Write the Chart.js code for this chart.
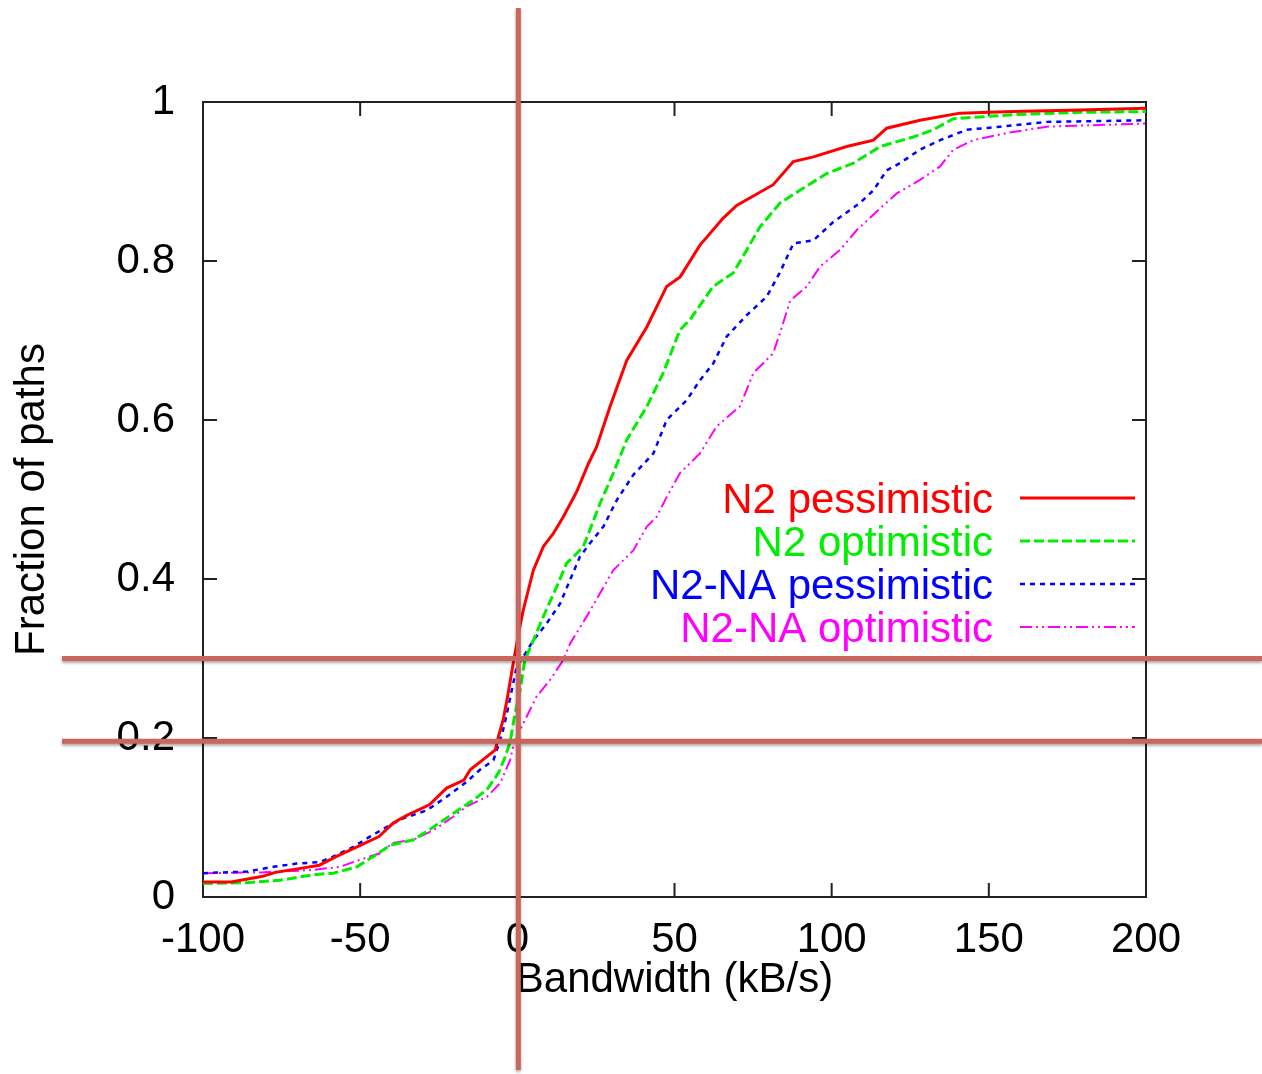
<!DOCTYPE html>
<html>
<head>
<meta charset="utf-8">
<title>Bandwidth CDF</title>
<script src="https://cdn.jsdelivr.net/npm/chart.js@4.4.0/dist/chart.umd.min.js"></script>
<style>
  html, body { margin: 0; padding: 0; background: #fff; }
  #wrap { width: 1262px; height: 1074px; position: relative; }
</style>
</head>
<body>
<div id="wrap"><canvas id="cdf"></canvas></div>
<script>
/* CDF of bandwidth difference per path — four estimates, plus hand-drawn marker lines */

// ── Axis ticks ───────────────────────────────────────────────
const xTicks = [-100, -50, 0, 50, 100, 150, 200];
const yTicks = [0, 0.2, 0.4, 0.6, 0.8, 1];

// ── Series ───────────────────────────────────────────────────
const seriesLabels = ['N2 pessimistic', 'N2 optimistic', 'N2-NA pessimistic', 'N2-NA optimistic'];

const n2PessX = [-100, -91, -81, -77, -69, -63, -57.5, -51, -44, -39.5, -35, -28, -22.5, -17, -15, -10.5, -7, -6, -4.5, -3.2, -1.3, 0.8, 1.9, 5.1, 8.3, 11.4, 14.6, 18.9, 22.6, 25.2, 29.5, 34.8, 41.2, 47.5, 51.8, 58.1, 65.5, 69.8, 81.4, 87.8, 94.2, 104.8, 113.3, 117.5, 128.1, 140.8, 157.7, 179, 200];
const n2PessY = [0.019, 0.019, 0.026, 0.031, 0.036, 0.040, 0.051, 0.063, 0.076, 0.093, 0.103, 0.116, 0.137, 0.147, 0.160, 0.174, 0.185, 0.202, 0.223, 0.250, 0.294, 0.340, 0.361, 0.411, 0.441, 0.457, 0.478, 0.510, 0.545, 0.566, 0.617, 0.675, 0.717, 0.768, 0.780, 0.820, 0.854, 0.870, 0.896, 0.925, 0.931, 0.944, 0.952, 0.967, 0.977, 0.986, 0.988, 0.990, 0.992];

const n2OptX = [-100, -86, -75.5, -65, -58.5, -51, -45.8, -40.5, -33, -26.7, -20.4, -14, -9.7, -6, -3.9, -2.3, -1.0, 0.85, 2.4, 5.1, 8.3, 12.5, 15.7, 18.9, 21, 23.1, 26.3, 30.5, 34.8, 41.2, 46.4, 51.7, 54.9, 62.3, 68.7, 73, 77.2, 83.6, 89.9, 98.4, 106.9, 115.4, 126, 132.3, 138.7, 157.8, 179, 200];
const n2OptY = [0.017, 0.018, 0.021, 0.028, 0.030, 0.038, 0.051, 0.065, 0.072, 0.088, 0.105, 0.122, 0.135, 0.156, 0.176, 0.195, 0.225, 0.260, 0.298, 0.323, 0.353, 0.390, 0.420, 0.432, 0.441, 0.462, 0.495, 0.533, 0.575, 0.617, 0.659, 0.713, 0.726, 0.768, 0.785, 0.814, 0.843, 0.873, 0.889, 0.910, 0.923, 0.944, 0.956, 0.965, 0.979, 0.984, 0.987, 0.988];

const naPessX = [-100, -86, -77.6, -70.2, -62.8, -58.5, -52.2, -46.9, -41.6, -36.3, -28.8, -22.5, -16.1, -11.9, -7.6, -5.5, -4.2, -2.3, -0.2, 1.9, 5.1, 9.3, 13.6, 16.8, 19.9, 23.1, 27.4, 31.6, 36.9, 43.3, 47.5, 53.9, 58.1, 62.3, 66.6, 73, 79.3, 83.6, 87.8, 94.2, 100.5, 109, 113.3, 117.5, 121.7, 128.1, 134.5, 142.9, 153.6, 168.4, 200];
const naPessY = [0.030, 0.032, 0.038, 0.042, 0.044, 0.051, 0.063, 0.076, 0.088, 0.099, 0.109, 0.126, 0.145, 0.160, 0.172, 0.197, 0.215, 0.250, 0.290, 0.302, 0.323, 0.344, 0.369, 0.399, 0.428, 0.445, 0.466, 0.499, 0.531, 0.558, 0.600, 0.625, 0.650, 0.671, 0.705, 0.732, 0.755, 0.786, 0.822, 0.826, 0.849, 0.873, 0.889, 0.914, 0.923, 0.940, 0.952, 0.965, 0.969, 0.975, 0.977];

const naOptX = [-100, -80.8, -64.9, -56.4, -50, -43.7, -39.5, -33.1, -26.7, -20.4, -16.1, -9.7, -5.5, -2.3, -1.3, 0.85, 3, 6.1, 10.4, 14.6, 16.8, 22.1, 26.3, 30.5, 36.9, 41.2, 44.3, 47.5, 51.7, 58.1, 63.4, 70.8, 75.1, 81.4, 83.6, 86.8, 92.1, 96.3, 102.7, 108, 115.4, 120.7, 128.1, 134.5, 138.7, 145.1, 155.7, 168.4, 200];
const naOptY = [0.030, 0.031, 0.034, 0.038, 0.047, 0.055, 0.068, 0.072, 0.084, 0.101, 0.114, 0.126, 0.143, 0.172, 0.190, 0.210, 0.227, 0.252, 0.273, 0.298, 0.319, 0.353, 0.382, 0.411, 0.436, 0.466, 0.478, 0.503, 0.533, 0.558, 0.592, 0.617, 0.659, 0.684, 0.710, 0.750, 0.768, 0.793, 0.814, 0.839, 0.866, 0.885, 0.902, 0.919, 0.940, 0.952, 0.961, 0.969, 0.973];

// Marker lines drawn over the plot (x = 0, y = 0.3 and ~0.2)
const markerX = [0];
const markerY = [0.3, 0.196];

const FONT = 'Liberation Sans, Arial, Helvetica, sans-serif';

function pts(xs, ys) {
  return xs.map((x, i) => ({ x, y: ys[i] }));
}

function mkSet(label, xs, ys, color, width, dash) {
  return {
    label,
    data: pts(xs, ys),
    borderColor: color,
    backgroundColor: color,
    borderWidth: width,
    borderDash: dash,
    pointRadius: 0,
    tension: 0,
    fill: false,
  };
}

// ── Plugins ──────────────────────────────────────────────────
// gnuplot-style frame with inward ticks on all four sides
const framePlugin = {
  id: 'frame',
  beforeDatasetsDraw(chart) {
    const { ctx, chartArea: a, scales } = chart;
    const tl = 14;
    ctx.save();
    ctx.strokeStyle = '#222';
    ctx.lineWidth = 2;
    ctx.strokeRect(a.left, a.top, a.right - a.left, a.bottom - a.top);
    ctx.beginPath();
    xTicks.forEach(v => {
      const px = scales.x.getPixelForValue(v);
      ctx.moveTo(px, a.bottom); ctx.lineTo(px, a.bottom - tl);
      ctx.moveTo(px, a.top);    ctx.lineTo(px, a.top + tl);
    });
    yTicks.forEach(v => {
      const py = scales.y.getPixelForValue(v);
      ctx.moveTo(a.left, py);  ctx.lineTo(a.left + tl, py);
      ctx.moveTo(a.right, py); ctx.lineTo(a.right - tl, py);
    });
    ctx.stroke();
    ctx.restore();
  }
};

// key inside the plot: label right-aligned, line sample to the right
const keyPlugin = {
  id: 'key',
  afterDatasetsDraw(chart) {
    const { ctx, chartArea: a } = chart;
    ctx.save();
    ctx.font = `42px ${FONT}`;
    ctx.textAlign = 'right';
    ctx.textBaseline = 'alphabetic';
    chart.data.datasets.forEach((ds, i) => {
      const rowY = a.top + 396 + i * 43;
      ctx.fillStyle = ds.borderColor;
      ctx.fillText(ds.label, a.right - 153, rowY + 15);
      ctx.strokeStyle = ds.borderColor;
      ctx.lineWidth = ds.borderWidth;
      ctx.setLineDash(ds.borderDash || []);
      ctx.beginPath();
      ctx.moveTo(a.right - 126, rowY);
      ctx.lineTo(a.right - 11, rowY);
      ctx.stroke();
    });
    ctx.restore();
  }
};

// the reddish guide lines that were drawn over the figure
const guidePlugin = {
  id: 'guides',
  afterDraw(chart) {
    const { ctx, scales } = chart;
    ctx.save();
    ctx.strokeStyle = '#c9665d';
    ctx.lineWidth = 5;
    ctx.shadowColor = 'rgba(0,0,0,0.35)';
    ctx.shadowBlur = 3;
    ctx.shadowOffsetY = 2;
    ctx.beginPath();
    markerX.forEach(v => {
      const px = scales.x.getPixelForValue(v) + 1;
      ctx.moveTo(px, 8); ctx.lineTo(px, 1070);
    });
    markerY.forEach(v => {
      const py = scales.y.getPixelForValue(v);
      ctx.moveTo(62, py); ctx.lineTo(chart.width, py);
    });
    ctx.stroke();
    ctx.restore();
  }
};

// ── Chart ────────────────────────────────────────────────────
new Chart(document.getElementById('cdf'), {
  type: 'line',
  data: {
    datasets: [
      mkSet(seriesLabels[0], n2PessX, n2PessY, '#ff0000', 3, []),
      mkSet(seriesLabels[1], n2OptX,  n2OptY,  '#00ee00', 3, [10, 4]),
      mkSet(seriesLabels[2], naPessX, naPessY, '#0000ff', 2.5, [5, 5]),
      mkSet(seriesLabels[3], naOptX,  naOptY,  '#ff00ff', 2, [12, 4, 2, 4, 2, 4]),
    ]
  },
  options: {
    responsive: true,
    maintainAspectRatio: false,
    animation: false,
    layout: { padding: { top: 102, right: 116, left: 0, bottom: 0 } },
    plugins: {
      legend: { display: false },
      tooltip: { enabled: false },
    },
    scales: {
      x: {
        type: 'linear',
        min: -100,
        max: 200,
        afterBuildTicks: s => { s.ticks = xTicks.map(v => ({ value: v })); },
        afterFit: s => { s.height = 177; },
        ticks: { color: '#000', font: { family: FONT, size: 42 }, padding: 10, maxRotation: 0 },
        grid: { display: false },
        border: { display: false },
        title: {
          display: true,
          text: 'Bandwidth (kB/s)',
          color: '#000',
          font: { family: FONT, size: 42 },
          padding: { top: 0, bottom: 68 },
        },
      },
      y: {
        type: 'linear',
        min: 0,
        max: 1,
        afterBuildTicks: s => { s.ticks = yTicks.map(v => ({ value: v })); },
        afterFit: s => { s.width = 203; },
        ticks: {
          color: '#000',
          font: { family: FONT, size: 42 },
          padding: 20,
          callback: v => String(Math.round(v * 10) / 10),
        },
        grid: { display: false },
        border: { display: false },
        title: {
          display: true,
          text: 'Fraction of paths',
          color: '#000',
          font: { family: FONT, size: 42 },
          padding: { top: 7, bottom: 7 },
        },
      },
    },
  },
  plugins: [framePlugin, keyPlugin, guidePlugin],
});
</script>
</body>
</html>
